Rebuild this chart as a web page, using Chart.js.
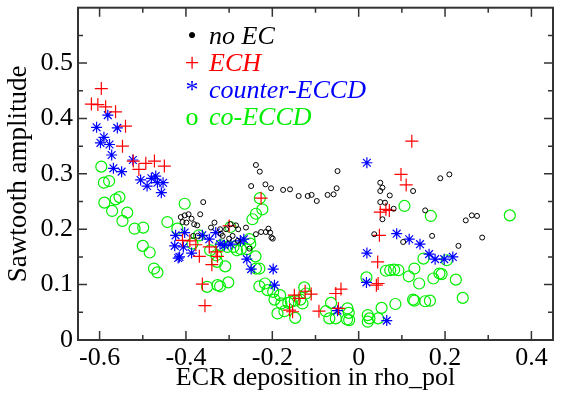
<!DOCTYPE html>
<html>
<head>
<meta charset="utf-8">
<script src="https://cdn.jsdelivr.net/npm/chart.js@4"></script>
<style>
  body { margin: 0; background: #fff; }
</style>
</head>
<body>
<canvas id="myChart" width="563" height="394"></canvas>
<script>
// values: [rho_pol, amplitude]
const noEC = [
  [-0.238, 0.316], [-0.229, 0.304], [-0.249, 0.278], [-0.216, 0.281], [-0.203, 0.274],
  [-0.175, 0.271], [-0.159, 0.272], [-0.139, 0.260], [-0.118, 0.260], [-0.109, 0.262],
  [-0.097, 0.251], [-0.072, 0.262], [-0.058, 0.263], [-0.051, 0.274], [-0.049, 0.305],
  [-0.360, 0.249], [-0.367, 0.227], [-0.412, 0.222], [-0.403, 0.225], [-0.394, 0.227],
  [-0.387, 0.219], [-0.408, 0.213], [-0.399, 0.212], [-0.381, 0.209], [-0.374, 0.207],
  [-0.383, 0.188], [-0.373, 0.188], [-0.334, 0.212], [-0.342, 0.203], [-0.321, 0.200],
  [-0.307, 0.200], [-0.297, 0.209], [-0.284, 0.207], [-0.279, 0.200], [-0.261, 0.203],
  [-0.315, 0.188], [-0.300, 0.183], [-0.319, 0.192], [-0.292, 0.188], [-0.280, 0.179],
  [-0.253, 0.165], [-0.238, 0.191], [-0.226, 0.195], [-0.215, 0.195], [-0.209, 0.201],
  [-0.205, 0.194], [-0.202, 0.185], [-0.199, 0.183],
  [0.050, 0.284], [0.055, 0.275], [0.050, 0.269], [0.072, 0.261], [0.050, 0.249],
  [0.061, 0.248], [0.081, 0.237], [0.055, 0.218], [0.126, 0.269], [0.036, 0.191],
  [0.103, 0.177], [0.154, 0.234], [0.170, 0.188], [0.189, 0.292], [0.210, 0.299],
  [0.248, 0.216], [0.262, 0.225], [0.274, 0.224], [0.286, 0.185], [0.231, 0.170]
]

const ech = [
  [-0.596, 0.454], [-0.619, 0.426], [-0.604, 0.425], [-0.586, 0.421], [-0.563, 0.412],
  [-0.540, 0.386], [-0.547, 0.350], [-0.522, 0.323], [-0.509, 0.308], [-0.493, 0.319],
  [-0.473, 0.323], [-0.450, 0.314], [-0.408, 0.180], [-0.391, 0.179], [-0.377, 0.172],
  [-0.369, 0.151], [-0.362, 0.101], [-0.356, 0.062], [-0.346, 0.168], [-0.330, 0.159],
  [-0.327, 0.151], [-0.340, 0.136], [-0.300, 0.206], [-0.226, 0.256], [-0.160, 0.054],
  [-0.153, 0.051], [-0.149, 0.081], [-0.138, 0.075], [-0.124, 0.088], [-0.110, 0.083],
  [-0.092, 0.052], [-0.053, 0.084], [-0.041, 0.092], [-0.047, 0.057], [0.041, 0.099],
  [0.045, 0.102], [0.044, 0.141], [0.048, 0.189], [0.050, 0.231], [0.063, 0.236],
  [0.071, 0.234], [0.098, 0.299], [0.110, 0.280], [0.123, 0.359]
]

const counterECCD = [
  [-0.581, 0.406], [-0.607, 0.384], [-0.559, 0.383], [-0.590, 0.366], [-0.598, 0.356],
  [-0.577, 0.353], [-0.572, 0.334], [-0.568, 0.310], [-0.549, 0.304], [-0.523, 0.325],
  [-0.505, 0.289], [-0.490, 0.278], [-0.480, 0.292], [-0.470, 0.296], [-0.466, 0.284],
  [-0.453, 0.284], [-0.457, 0.266], [-0.424, 0.189], [-0.403, 0.194], [-0.426, 0.170],
  [-0.406, 0.168], [-0.418, 0.148], [-0.415, 0.150], [-0.387, 0.157], [-0.362, 0.189],
  [-0.346, 0.182], [-0.331, 0.194], [-0.321, 0.173], [-0.311, 0.171], [-0.296, 0.173],
  [-0.274, 0.179], [-0.266, 0.182], [-0.259, 0.146], [-0.249, 0.128], [-0.198, 0.128],
  [-0.195, 0.099], [-0.049, 0.053], [0.018, 0.104], [0.019, 0.157], [0.019, 0.320],
  [0.065, 0.035], [0.088, 0.192], [0.117, 0.182], [0.142, 0.173], [0.163, 0.155],
  [0.177, 0.146], [0.198, 0.146], [0.218, 0.150]
]

const coECCD = [
  [-0.596, 0.313], [-0.590, 0.284], [-0.578, 0.287], [-0.589, 0.248], [-0.563, 0.254],
  [-0.554, 0.258], [-0.571, 0.233], [-0.536, 0.230], [-0.547, 0.215], [-0.519, 0.201],
  [-0.499, 0.203], [-0.500, 0.170], [-0.484, 0.158], [-0.474, 0.129], [-0.466, 0.122],
  [-0.403, 0.246], [-0.443, 0.213], [-0.420, 0.201], [-0.385, 0.174], [-0.370, 0.189],
  [-0.229, 0.256], [-0.223, 0.236], [-0.238, 0.228], [-0.246, 0.218], [-0.297, 0.204],
  [-0.344, 0.162], [-0.330, 0.153], [-0.328, 0.141], [-0.309, 0.133], [-0.319, 0.171],
  [-0.304, 0.168], [-0.290, 0.168], [-0.282, 0.162], [-0.273, 0.164], [-0.259, 0.164],
  [-0.253, 0.182], [-0.251, 0.174], [-0.239, 0.151], [-0.238, 0.129], [-0.230, 0.129],
  [-0.351, 0.096], [-0.327, 0.099], [-0.321, 0.097], [-0.302, 0.104], [-0.230, 0.097],
  [-0.217, 0.102], [-0.211, 0.090], [-0.198, 0.087], [-0.195, 0.073], [-0.182, 0.081],
  [-0.179, 0.066], [-0.163, 0.067], [-0.157, 0.069], [-0.148, 0.071], [-0.135, 0.073],
  [-0.126, 0.095], [-0.122, 0.084], [-0.188, 0.048], [-0.172, 0.052], [-0.147, 0.040],
  [-0.130, 0.066], [-0.064, 0.067], [-0.076, 0.052], [-0.068, 0.039], [-0.053, 0.039],
  [-0.026, 0.057], [-0.023, 0.049], [-0.022, 0.036], [-0.027, 0.037], [0.021, 0.045],
  [0.025, 0.039], [0.021, 0.033], [0.045, 0.039], [0.053, 0.058], [0.085, 0.065],
  [0.018, 0.113], [0.063, 0.125], [0.073, 0.126], [0.082, 0.127], [0.092, 0.126],
  [0.106, 0.242], [0.167, 0.224], [0.150, 0.147], [0.129, 0.129], [0.116, 0.115],
  [0.140, 0.102], [0.173, 0.111], [0.187, 0.120], [0.126, 0.073], [0.129, 0.071],
  [0.154, 0.070], [0.165, 0.071], [0.204, 0.144], [0.192, 0.119], [0.225, 0.109],
  [0.241, 0.076], [0.350, 0.225]
]

const xTicks = [-0.6, -0.4, -0.2, 0, 0.2, 0.4]
const xMinorTicks = [-0.5, -0.3, -0.1, 0.1, 0.3]
const yTicks = [0, 0.1, 0.2, 0.3, 0.4, 0.5]
const yMinorTicks = [0.05, 0.15, 0.25, 0.35, 0.45, 0.55]

const legendItems = [
  {symbol: '\u2022', label: 'no EC', color: '#000000'},
  {symbol: '+', label: 'ECH', color: '#ff0000'},
  {symbol: '*', label: 'counter-ECCD', color: '#0000ff'},
  {symbol: 'o', label: 'co-ECCD', color: '#00ee00'}
]

const serif = '"Liberation Serif", "DejaVu Serif", serif'
const toXY = arr => arr.map(p => ({x: p[0], y: p[1]}))

// inward ticks on all four sides plus the frame, like the original plot
const framePlugin = {
  id: 'frame',
  afterDatasetsDraw(chart) {
    const {ctx, chartArea: a, scales: {x, y}} = chart
    ctx.save()
    ctx.strokeStyle = '#333'
    ctx.lineWidth = 1.5
    const tick = (vals, len) => {
      vals.forEach(v => {
        const px = x.getPixelForValue(v)
        ctx.beginPath()
        ctx.moveTo(px, a.bottom); ctx.lineTo(px, a.bottom - len)
        ctx.moveTo(px, a.top); ctx.lineTo(px, a.top + len)
        ctx.stroke()
      })
    }
    const tickY = (vals, len) => {
      vals.forEach(v => {
        const py = y.getPixelForValue(v)
        ctx.beginPath()
        ctx.moveTo(a.left, py); ctx.lineTo(a.left + len, py)
        ctx.moveTo(a.right, py); ctx.lineTo(a.right - len, py)
        ctx.stroke()
      })
    }
    tick(xTicks, 9); tick(xMinorTicks, 5)
    tickY(yTicks, 9); tickY(yMinorTicks, 5)
    ctx.lineWidth = 2
    ctx.strokeRect(a.left, a.top, a.right - a.left, a.bottom - a.top)
    ctx.restore()
  }
}

const legendPlugin = {
  id: 'textLegend',
  afterDraw(chart) {
    const {ctx, chartArea: a} = chart
    ctx.save()
    ctx.textBaseline = 'alphabetic'
    legendItems.forEach((item, i) => {
      const base = a.top + 36 + i * 27
      ctx.fillStyle = item.color
      ctx.textAlign = 'center'
      ctx.font = '26px ' + serif
      ctx.fillText(item.symbol, a.left + 114, base)
      ctx.textAlign = 'left'
      ctx.font = 'italic 26px ' + serif
      ctx.fillText(item.label, a.left + 131, base)
    })
    ctx.restore()
  }
}

function createChart() {
  const canvas = document.getElementById('myChart')
  const config = {
    type: 'scatter',
    data: {
      datasets: [
        {label: 'no EC', data: toXY(noEC), pointStyle: 'circle', pointRadius: 2.5,
         borderColor: '#000', backgroundColor: 'rgba(0,0,0,0)', borderWidth: 1},
        {label: 'ECH', data: toXY(ech), pointStyle: 'cross', pointRadius: 6.5,
         borderColor: '#ff0000', backgroundColor: '#ff0000', borderWidth: 1.2},
        {label: 'counter-ECCD', data: toXY(counterECCD), pointStyle: 'star', pointRadius: 5.5,
         borderColor: '#0000ff', backgroundColor: '#0000ff', borderWidth: 1.2},
        {label: 'co-ECCD', data: toXY(coECCD), pointStyle: 'circle', pointRadius: 5.5,
         borderColor: '#00ee00', backgroundColor: 'rgba(0,0,0,0)', borderWidth: 1.2}
      ]
    },
    options: {
      responsive: false,
      animation: false,
      layout: {padding: {top: 7, right: 10, left: 0, bottom: 0}},
      plugins: {legend: {display: false}, tooltip: {enabled: false}},
      elements: {point: {hoverRadius: 0}},
      scales: {
        x: {
          type: 'linear', min: -0.65, max: 0.45,
          grid: {display: false, drawTicks: false},
          border: {display: false},
          afterBuildTicks: s => { s.ticks = xTicks.map(v => ({value: v})) },
          afterFit: s => { s.height = 54; s.paddingLeft = 0; s.paddingRight = 0 },
          ticks: {
            color: '#000', padding: 3,
            font: {family: serif, size: 26},
            callback: v => String(Number(v.toFixed(1)))
          },
          title: {display: true, text: 'ECR deposition in rho_pol', color: '#000',
                  font: {family: serif, size: 26, lineHeight: 1.2}, padding: {top: 0, bottom: 0}}
        },
        y: {
          type: 'linear', min: 0, max: 0.6,
          grid: {display: false, drawTicks: false},
          border: {display: false},
          afterBuildTicks: s => { s.ticks = yTicks.map(v => ({value: v})) },
          afterFit: s => { s.width = 78; s.paddingTop = 0; s.paddingBottom = 0 },
          ticks: {
            color: '#000', padding: 5,
            font: {family: serif, size: 26},
            callback: v => String(Number(v.toFixed(1)))
          },
          title: {display: true, text: 'Sawtooth amplitude', color: '#000',
                  font: {family: serif, size: 27, lineHeight: 1.2}, padding: {top: 3, bottom: 0}}
        }
      }
    },
    plugins: [framePlugin, legendPlugin]
  }
  return new Chart(canvas, config)
}

createChart()
</script>
</body>
</html>
